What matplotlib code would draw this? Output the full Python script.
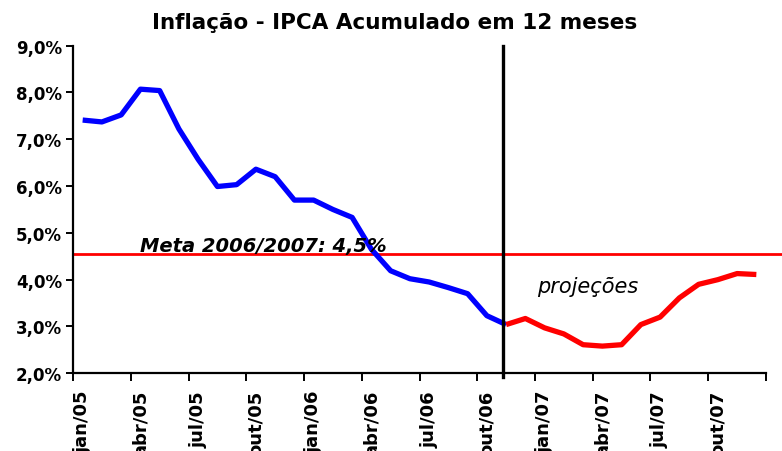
import numpy as np
import matplotlib.pyplot as plt

# Meses (jan/05 a dez/07)
months = ['jan', 'fev', 'mar', 'abr', 'mai', 'jun',
          'jul', 'ago', 'set', 'out', 'nov', 'dez']
periods = [f'{m}/{y}' for y in ['05', '06', '07'] for m in months]

# IPCA acumulado em 12 meses (%), observado ate nov/06
ipca_obs = [7.41, 7.37, 7.52, 8.07, 8.04, 7.22, 6.57, 5.99, 6.03, 6.36,
            6.20, 5.70, 5.70, 5.50, 5.33, 4.65, 4.19, 4.02, 3.95, 3.83,
            3.70, 3.23, 3.04]
# Projecoes nov/06 a dez/07
ipca_proj = [3.04, 3.17, 2.97, 2.84, 2.61, 2.58, 2.61, 3.04, 3.20, 3.61,
             3.90, 4.00, 4.13, 4.11]
meta = 4.55
y_ticks = [2, 3, 4, 5, 6, 7, 8, 9]

split = len(ipca_obs) - 1
x_obs = np.arange(len(ipca_obs))
x_proj = np.arange(split, split + len(ipca_proj))

fig = plt.figure(figsize=(7.82, 4.52), dpi=100)
ax = fig.add_axes([0.0934, 0.172, 0.8861, 0.7248])

# Linha da meta (passa um pouco do eixo, como no original)
ax.axhline(meta, xmin=0, xmax=1.023, color='#ff0000', lw=2.0,
           clip_on=False, zorder=2)

ax.plot(x_obs, ipca_obs, color='#0000ff', lw=3.8, zorder=3,
        solid_capstyle='butt')
ax.plot(x_proj, ipca_proj, color='#ff0000', lw=3.8, zorder=3,
        solid_capstyle='butt')

# Separador observado / projecao
ax.axvline(split - 0.15, ymin=-0.012, ymax=1, color='black', lw=2.4,
           clip_on=False, zorder=4)

ax.text(3.0, 4.62, 'Meta 2006/2007: 4,5%', fontsize=14,
        fontweight='bold', fontstyle='italic', va='baseline', ha='left')
ax.text(23.6, 3.73, 'projeções', fontsize=15, fontstyle='italic',
        va='baseline', ha='left')

# Eixos
ax.set_xlim(-0.5, len(periods) - 0.5)
ax.set_ylim(y_ticks[0], y_ticks[-1])
for s in ['top', 'right']:
    ax.spines[s].set_visible(False)
for s in ['left', 'bottom']:
    ax.spines[s].set_linewidth(1.6)

ax.set_yticks(y_ticks)
ax.set_yticklabels([f'{v:.1f}%'.replace('.', ',') for v in y_ticks],
                   fontsize=12, fontweight='bold')
ax.tick_params(axis='y', direction='out', length=5, width=1.4, pad=3)

# Marcas entre categorias, rotulos no centro (estilo Excel)
ax.set_xticks(np.arange(-0.5, len(periods), 3))
ax.set_xticklabels([])
ax.tick_params(axis='x', which='major', direction='out', length=6,
               width=1.4)
label_pos = np.arange(0, len(periods), 3)
ax.set_xticks(label_pos, [periods[i] for i in label_pos], minor=True,
              rotation=90, fontsize=13, fontweight='bold')
ax.tick_params(axis='x', which='minor', length=0, pad=12)

fig.text(0.505, 0.950, 'Inflação - IPCA Acumulado em 12 meses',
         ha='center', va='center', fontsize=15.5, fontweight='bold')

fig.savefig('out.png', dpi=100)
